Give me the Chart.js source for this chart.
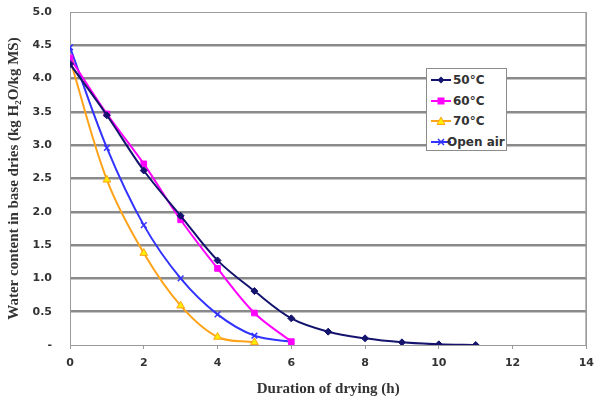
<!DOCTYPE html>
<html>
<head>
<meta charset="utf-8">
<script src="https://cdn.jsdelivr.net/npm/chart.js@4.4.0/dist/chart.umd.min.js"></script>
<style>
  body { margin: 0; background: #fff; }
  #wrap { position: relative; width: 597px; height: 396px; }
  #legend {
    position: absolute; left: 426px; top: 68px; width: 81px; height: 83px;
    border: 1px solid #8c8c8c; background: #fff; box-sizing: border-box;
    padding-top: 1px; overflow: hidden;
    font: bold 12px "DejaVu Sans", Verdana, sans-serif; color: #333;
  }
  .row { height: 20.5px; display: flex; align-items: center; white-space: nowrap; }
  .row svg { margin-left: 4px; margin-right: 2px; flex: none; }
</style>
</head>
<body>
<div id="wrap">
  <canvas id="dryChart" width="597" height="396"></canvas>
  <div id="legend"></div>
</div>
<script>
// Drying curves - water content vs. duration

const hours50 = [0, 1, 2, 3, 4, 5, 6, 7, 8, 9, 10, 11];
const water50 = [4.22, 3.45, 2.62, 1.94, 1.27, 0.81, 0.4, 0.2, 0.1, 0.04, 0.01, 0.0];

const hours60 = [0, 1, 2, 3, 4, 5, 6];
const water60 = [4.31, 3.47, 2.72, 1.88, 1.15, 0.48, 0.05];

const hours70 = [0, 1, 2, 3, 4, 5];
const water70 = [4.29, 2.48, 1.38, 0.59, 0.12, 0.04];

const hoursAir = [0, 1, 2, 3, 4, 5, 6];
const waterAir = [4.47, 2.96, 1.8, 1.0, 0.46, 0.14, 0.05];

const seriesLabels = ['50°C', '60°C', '70°C', 'Open air'];
const xTicks = [0, 2, 4, 6, 8, 10, 12, 14];

function toPoints(xs, ys) {
    return xs.map((x, i) => ({ x: x, y: ys[i] }));
}

const tickFont = { family: '"DejaVu Sans", Verdana, sans-serif', size: 11, weight: 'bold' };
const titleFont = { family: '"Liberation Serif", "Times New Roman", serif', size: 15, weight: 'bold' };

const datasets = [
    {
        label: seriesLabels[0],
        data: toPoints(hours50, water50),
        borderColor: '#14146e',
        backgroundColor: '#14146e',
        pointStyle: 'rectRot',
        pointRadius: 3.5
    },
    {
        label: seriesLabels[1],
        data: toPoints(hours60, water60),
        borderColor: '#ff00ff',
        backgroundColor: '#ff00ff',
        pointStyle: 'rect',
        pointRadius: 4
    },
    {
        label: seriesLabels[2],
        data: toPoints(hours70, water70),
        borderColor: '#ffa31a',
        backgroundColor: '#ffee00',
        pointStyle: 'triangle',
        pointRadius: 4.5
    },
    {
        label: seriesLabels[3],
        data: toPoints(hoursAir, waterAir),
        borderColor: '#3333ff',
        backgroundColor: '#3333ff',
        pointStyle: 'crossRot',
        pointRadius: 4,
        pointBorderWidth: 1.5
    }
].map(ds => Object.assign({ borderWidth: 2, tension: 0.35, fill: false, pointBorderWidth: 1 }, ds));

const plotBorder = {
    id: 'plotBorder',
    beforeDatasetsDraw(chart) {
        const a = chart.chartArea, c = chart.ctx;
        c.save();
        c.strokeStyle = '#9a9a9a';
        c.lineWidth = 1;
        c.strokeRect(a.left + 0.5, a.top + 0.5, a.right - a.left - 1, a.bottom - a.top);
        c.restore();
    }
};

const ctx = document.getElementById('dryChart').getContext('2d');
const dryChart = new Chart(ctx, {
    type: 'line',
    data: { datasets: datasets },
    options: {
        responsive: false,
        animation: false,
        layout: { padding: { top: 12, right: 8, left: 0, bottom: 0 } },
        plugins: {
            legend: { display: false },
            tooltip: { enabled: false }
        },
        scales: {
            x: {
                type: 'linear',
                min: 0,
                max: 14,
                afterBuildTicks: s => { s.ticks = xTicks.map(v => ({ value: v })); },
                grid: {
                    color: c => (c.tick && (c.tick.value === 0 || c.tick.value === 14)) ? '#9a9a9a' : 'rgba(0,0,0,0)',
                    tickColor: '#9a9a9a',
                    tickLength: 9,
                    tickBorderDash: [3, 20]
                },
                border: { color: '#9a9a9a' },
                ticks: { color: '#333', font: tickFont, padding: 3, maxRotation: 0 },
                title: { display: true, text: 'Duration of drying (h)', color: '#333', font: titleFont, padding: { top: 3, bottom: -2 } },
                afterFit: s => { s.height = 51; }
            },
            y: {
                min: 0,
                max: 5,
                ticks: {
                    stepSize: 0.5,
                    color: '#333',
                    font: tickFont,
                    padding: 5,
                    callback: v => v === 0 ? '-' : v.toFixed(1)
                },
                grid: {
                    color: c => (c.tick && (c.tick.value === 0 || c.tick.value === 5)) ? '#9a9a9a' : '#8a8a8a',
                    lineWidth: c => (c.tick && (c.tick.value === 0 || c.tick.value === 5)) ? 1 : 2.5,
                    tickColor: 'rgba(0,0,0,0)',
                    tickLength: 13
                },
                border: { color: '#9a9a9a' },
                title: { display: true, text: 'Water content in base dries (kg H₂O/kg MS)', color: '#333', font: titleFont, padding: { top: 5, bottom: 0 } },
                afterFit: s => { s.width = 70; }
            }
        }
    },
    plugins: [plotBorder]
});

// HTML legend inside the plot
function markerSvg(ds) {
    const col = ds.borderColor, fillCol = ds.backgroundColor;
    let m = '';
    if (ds.pointStyle === 'rectRot') m = `<polygon points="10,1.5 13.5,5 10,8.5 6.5,5" fill="${fillCol}"/>`;
    else if (ds.pointStyle === 'rect') m = `<rect x="6.5" y="1.5" width="7" height="7" fill="${fillCol}"/>`;
    else if (ds.pointStyle === 'triangle') m = `<polygon points="10,1 14,8.5 6,8.5" fill="${fillCol}" stroke="${col}" stroke-width="1"/>`;
    else m = `<path d="M7,2 L13,8 M13,2 L7,8" stroke="${col}" stroke-width="1.5"/>`;
    return `<svg width="20" height="10"><line x1="0" y1="5" x2="20" y2="5" stroke="${col}" stroke-width="2"/>${m}</svg>`;
}

const legendEl = document.getElementById('legend');
dryChart.data.datasets.forEach((ds, i) => {
    const row = document.createElement('div');
    row.className = 'row';
    row.innerHTML = markerSvg(ds) + `<span style="${i === 3 ? 'margin-left:-6px' : ''}">${ds.label}</span>`;
    legendEl.appendChild(row);
});
</script>
</body>
</html>
